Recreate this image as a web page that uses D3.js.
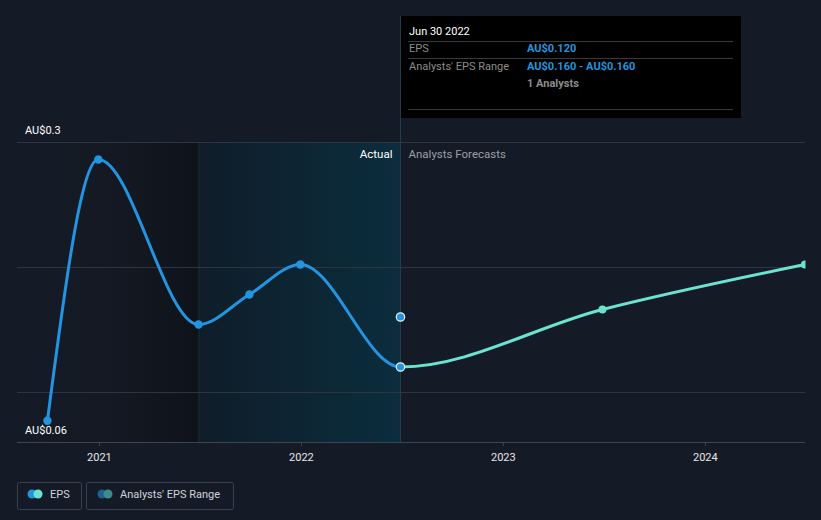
<!DOCTYPE html>
<html><head><meta charset="utf-8">
<script src="https://cdn.jsdelivr.net/npm/d3@7"></script>
<style>
html,body{margin:0;padding:0;background:#151b26;}
svg{display:block;font-family:Roboto,"Open Sans",sans-serif;}
</style></head><body>
<svg id="c" width="821" height="520"></svg>
<script>
// ---- data ----
const actualDates = ["2020-09-30","2020-12-31","2021-06-30","2021-09-30","2021-12-31","2022-06-30"];
const actualEPS   = [0.077, 0.286, 0.154, 0.178, 0.202, 0.120];
const forecastDates = ["2022-06-30","2023-06-30","2024-06-30"];
const forecastEPS   = [0.120, 0.166, 0.202];
const rangeDates = ["2022-06-30"];
const rangeLow  = [0.160];
const rangeHigh = [0.160];
const yTickValues = [0.06, 0.3];
const yTickLabels = ["AU$0.06", "AU$0.3"];
const gridValues = [0.1, 0.2, 0.3];
const xTickYears = ["2021","2022","2023","2024"];
const tooltipTitle = "Jun 30 2022";
const tooltipRows = [["EPS","AU$0.120"],["Analysts' EPS Range","AU$0.160 - AU$0.160"]];
const tooltipAnalysts = "1 Analysts";

const parse = d3.timeParse("%Y-%m-%d");
const svg = d3.select("#c");
const L = 17, R = 805, T = 142, B = 442;

const x = d3.scaleTime().domain([parse("2020-08-06"), parse("2024-06-30")]).range([L, R]);
const y = d3.scaleLinear().domain([0.06, 0.3]).range([B, T]);

const actual = actualDates.map((d,i)=>({date:parse(d), v:actualEPS[i]}));
const forecast = forecastDates.map((d,i)=>({date:parse(d), v:forecastEPS[i]}));
const combined = actual.concat(forecast.slice(1));
const splitDate = parse("2022-06-30");
const regionStart = parse("2021-06-30");
const xs = x(splitDate), xr = x(regionStart);

const defs = svg.append("defs");
const g1 = defs.append("linearGradient").attr("id","gPast").attr("x1","0").attr("x2","1");
g1.append("stop").attr("offset","0").attr("stop-color","#151b26").attr("stop-opacity",0);
g1.append("stop").attr("offset","1").attr("stop-color","#0e1118").attr("stop-opacity",0.9);
const g2 = defs.append("linearGradient").attr("id","gAct").attr("x1","0").attr("x2","1");
g2.append("stop").attr("offset","0").attr("stop-color","#0f1d29");
g2.append("stop").attr("offset","1").attr("stop-color","#0b2d3d");
defs.append("clipPath").attr("id","clipA").append("rect").attr("x",0).attr("y",0).attr("width",xs).attr("height",520);
defs.append("clipPath").attr("id","clipF").append("rect").attr("x",xs).attr("y",0).attr("width",R-xs).attr("height",520);
defs.append("clipPath").attr("id","clipP").append("rect").attr("x",L).attr("y",0).attr("width",R-L+0.5).attr("height",520);

// shaded regions
svg.append("rect").attr("x",L).attr("y",T).attr("width",xr-L).attr("height",B-T).attr("fill","url(#gPast)");
svg.append("rect").attr("x",xr).attr("y",T).attr("width",xs-xr).attr("height",B-T).attr("fill","url(#gAct)");
svg.append("line").attr("x1",xr+0.5).attr("x2",xr+0.5).attr("y1",T).attr("y2",B).attr("stroke","#1a2a36").attr("stroke-width",1);

// gridlines
svg.selectAll("line.grid").data(gridValues).enter().append("line")
  .attr("x1",L).attr("x2",R).attr("y1",d=>Math.round(y(d))+0.5).attr("y2",d=>Math.round(y(d))+0.5)
  .attr("stroke","#2f3540").attr("stroke-width",1);

// vertical marker line
svg.append("line").attr("x1",Math.round(xs)+0.5).attr("x2",Math.round(xs)+0.5).attr("y1",16).attr("y2",B)
  .attr("stroke","#1f3d4c").attr("stroke-width",1);

// x axis
const xAxis = d3.axisBottom(x).tickValues(xTickYears.map(s=>parse(s+"-01-01"))).tickFormat(d3.timeFormat("%Y")).tickSize(4).tickPadding(7);
const ax = svg.append("g").attr("transform",`translate(0,${B})`).call(xAxis);
ax.select(".domain").attr("stroke","#3f4550").attr("d",`M${L},0.5H${R}`);
ax.selectAll(".tick line").attr("stroke","#3f4550");
ax.selectAll(".tick text").attr("fill","#e6e6e6").attr("font-size","11px").attr("font-family","Roboto,sans-serif");

// y labels
svg.selectAll("text.ylab").data(yTickValues).enter().append("text")
  .attr("x",25).attr("y",d=>y(d)-8).attr("fill","#ffffff").attr("font-size","11px").text((d,i)=>yTickLabels[i]);

// Actual / Forecast labels
svg.append("text").attr("x",xs-8).attr("y",158).attr("text-anchor","end").attr("fill","#ffffff").attr("font-size","11.5px").text("Actual");
svg.append("text").attr("x",xs+8).attr("y",158).attr("fill","#9a9ea6").attr("font-size","11.5px").text("Analysts Forecasts");

// lines
const line = d3.line().x(d=>x(d.date)).y(d=>y(d.v)).curve(d3.curveMonotoneX);
const gl = svg.append("g").attr("clip-path","url(#clipP)");
gl.append("path").attr("d",line(combined)).attr("fill","none").attr("stroke","#6be3d0").attr("stroke-width",3).attr("clip-path","url(#clipF)");
gl.append("path").attr("d",line(combined)).attr("fill","none").attr("stroke","#2394df").attr("stroke-width",3).attr("clip-path","url(#clipA)");

// forecast dots
gl.selectAll("circle.f").data(forecast.slice(1)).enter().append("circle")
  .attr("cx",d=>x(d.date)).attr("cy",d=>y(d.v)).attr("r",4).attr("fill","#6be3d0");
// actual dots
svg.selectAll("circle.a").data(actual).enter().append("circle")
  .attr("cx",d=>x(d.date)).attr("cy",d=>y(d.v)).attr("r",4.2).attr("fill","#2394df")
  .attr("stroke",d=>+d.date===+splitDate?"#e8eef4":"none").attr("stroke-width",1.2);
// range dots
svg.selectAll("circle.r").data(rangeDates).enter().append("circle")
  .attr("cx",d=>x(parse(d))).attr("cy",(d,i)=>y((rangeLow[i]+rangeHigh[i])/2)).attr("r",4.2)
  .attr("fill","#2394df").attr("stroke","#e8eef4").attr("stroke-width",1.2);

// tooltip
const tt = svg.append("g");
tt.append("rect").attr("x",401).attr("y",16).attr("width",340).attr("height",102).attr("fill","#000000");
tt.append("text").attr("x",409).attr("y",35).attr("fill","#ffffff").attr("font-size","11px").text(tooltipTitle);
[41,58,109].forEach(yy=>tt.append("line").attr("x1",408).attr("x2",733).attr("y1",yy+0.5).attr("y2",yy+0.5).attr("stroke","#3a3a3a"));
tooltipRows.forEach((r,i)=>{
  const yy = 52 + i*17.5;
  tt.append("text").attr("x",409).attr("y",yy).attr("fill","#8c8c8c").attr("font-size","11px").text(r[0]);
  tt.append("text").attr("x",527).attr("y",yy).attr("fill","#2394df").attr("font-size","11px").attr("font-weight","bold").text(r[1]);
});
tt.append("text").attr("x",527).attr("y",87).attr("fill","#8c8c8c").attr("font-size","11px").attr("font-weight","bold").text(tooltipAnalysts);

// legend
const lg = svg.append("g");
lg.append("rect").attr("x",17.5).attr("y",482.5).attr("width",64).attr("height",27).attr("rx",2).attr("fill","none").attr("stroke","#3a404c");
lg.append("circle").attr("cx",32).attr("cy",494).attr("r",4.5).attr("fill","#2394df");
lg.append("circle").attr("cx",38).attr("cy",494).attr("r",4.5).attr("fill","#6be3d0");
lg.append("text").attr("x",50).attr("y",498).attr("fill","#cfd3da").attr("font-size","11px").text("EPS");
lg.append("rect").attr("x",86.5).attr("y",482.5).attr("width",147).attr("height",27).attr("rx",2).attr("fill","none").attr("stroke","#3a404c");
lg.append("circle").attr("cx",102).attr("cy",494).attr("r",4.5).attr("fill","#1e5f8f");
lg.append("circle").attr("cx",108).attr("cy",494).attr("r",4.5).attr("fill","#3f8a8a");
lg.append("text").attr("x",120).attr("y",498).attr("fill","#cfd3da").attr("font-size","11px").text("Analysts' EPS Range");
</script>
</body></html>
